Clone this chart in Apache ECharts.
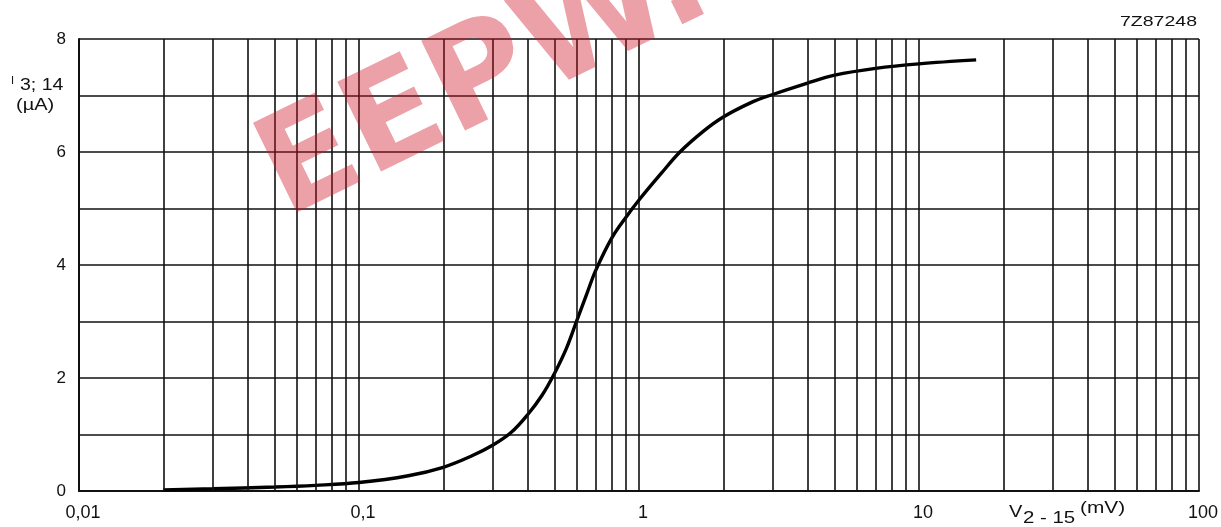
<!DOCTYPE html>
<html>
<head>
<meta charset="utf-8">
<script src="https://cdn.jsdelivr.net/npm/echarts@6/dist/echarts.min.js"></script>
<style>
html,body{margin:0;padding:0;background:#fff;}
#c{width:1221px;height:527px;}
</style>
</head>
<body>
<div id="c"></div>
<script>
// V2-15 (mV)
const voltage = [0.02, 0.03, 0.05, 0.07, 0.1, 0.15, 0.2, 0.25, 0.3, 0.35, 0.4, 0.45, 0.5, 0.55, 0.6, 0.65, 0.7, 0.8, 0.9, 1.0, 1.2, 1.4, 1.7, 2, 2.5, 2.93, 4, 5, 7, 10, 16];
// I3;14 (uA)
const current = [0.02, 0.04, 0.07, 0.1, 0.15, 0.27, 0.42, 0.61, 0.81, 1.04, 1.35, 1.69, 2.09, 2.52, 3.02, 3.48, 3.9, 4.48, 4.85, 5.15, 5.62, 6.0, 6.37, 6.62, 6.87, 7.0, 7.22, 7.36, 7.48, 7.56, 7.63];
const xTickLabels = ['0,01', '0,1', '1', '10', '100'];
const yTickLabels = ['0', '', '2', '', '4', '', '6', '', '8'];
const minorGridX = [0.02,0.03,0.04,0.05,0.06,0.07,0.08,0.09,
                    0.2,0.3,0.4,0.5,0.6,0.7,0.8,0.9,
                    2,3,4,5,6,7,8,9,
                    20,30,40,50,60,70,80,90];

const FONT = '"Liberation Sans", Arial, Helvetica, sans-serif';
const INK = '#111';
const chart = echarts.init(document.getElementById('c'), null, {renderer: 'canvas'});

function txt(text, x, y, size, sx, align) {
  align = align || 'left';
  return {
    type: 'text', x: x, y: y, scaleX: sx || 1, silent: true, z: 50,
    style: {text: text, fontSize: size, fontFamily: FONT, fill: INK,
            align: align, textAlign: align, verticalAlign: 'top', textVerticalAlign: 'top'}
  };
}

const option = {
  animation: false,
  backgroundColor: '#fff',
  grid: {left: 79, right: 17, top: 39, bottom: 36},
  xAxis: {
    type: 'log', logBase: 10, min: 0.01, max: 100,
    axisLine: {show: true, onZero: false, lineStyle: {color: INK, width: 2}},
    axisTick: {show: false},
    splitLine: {show: true, lineStyle: {color: INK, width: 1.6}},
    axisLabel: {
      margin: 13, fontSize: 18, color: INK, fontFamily: FONT,
      padding: [0, 0, 0, 8],
      formatter: function (v) { return xTickLabels[Math.round(Math.log10(v)) + 2] || ''; }
    }
  },
  yAxis: {
    type: 'value', min: 0, max: 8, interval: 1,
    axisLine: {show: true, lineStyle: {color: INK, width: 2}},
    axisTick: {show: false},
    splitLine: {show: true, lineStyle: {color: INK, width: 1.6}},
    axisLabel: {
      margin: 13, fontSize: 17, color: INK, fontFamily: FONT,
      formatter: function (v) { return yTickLabels[Math.round(v)]; }
    }
  },
  series: [{
    type: 'line',
    data: voltage.map(function (v, i) { return [v, current[i]]; }),
    showSymbol: false,
    smooth: 0.35,
    lineStyle: {color: '#000', width: 3.4},
    z: 3,
    markLine: {
      silent: true,
      symbol: ['none', 'none'],
      label: {show: false},
      emphasis: {disabled: true},
      lineStyle: {color: INK, width: 1.6, type: 'solid'},
      data: minorGridX.map(function (v) { return {xAxis: v}; })
    }
  }],
  graphic: [
    txt('I', 11, 75, 11, 1),
    txt('3; 14', 20, 78, 16, 1.22),
    txt('(\u00b5A)', 16, 98, 16, 1.25),
    txt('V', 1009, 505, 16, 1.25),
    txt('2 - 15', 1023, 510, 17, 1.2),
    txt('(mV)', 1080, 501, 16, 1.3),
    txt('7Z87248', 1197, 14, 15, 1.3, 'right'),
    {
      type: 'text', x: 270, y: 186, rotation: 26 * Math.PI / 180, scaleX: 1.0,
      silent: true, z: 100,
      style: {text: 'EEPW.com', fontSize: 137, fontWeight: 'bold',
              fontFamily: '"DejaVu Sans", "Liberation Sans", sans-serif',
              fill: 'rgba(205,20,35,0.4)',
              align: 'left', textAlign: 'left', verticalAlign: 'middle', textVerticalAlign: 'middle'}
    }
  ]
};
chart.setOption(option);
</script>
</body>
</html>
